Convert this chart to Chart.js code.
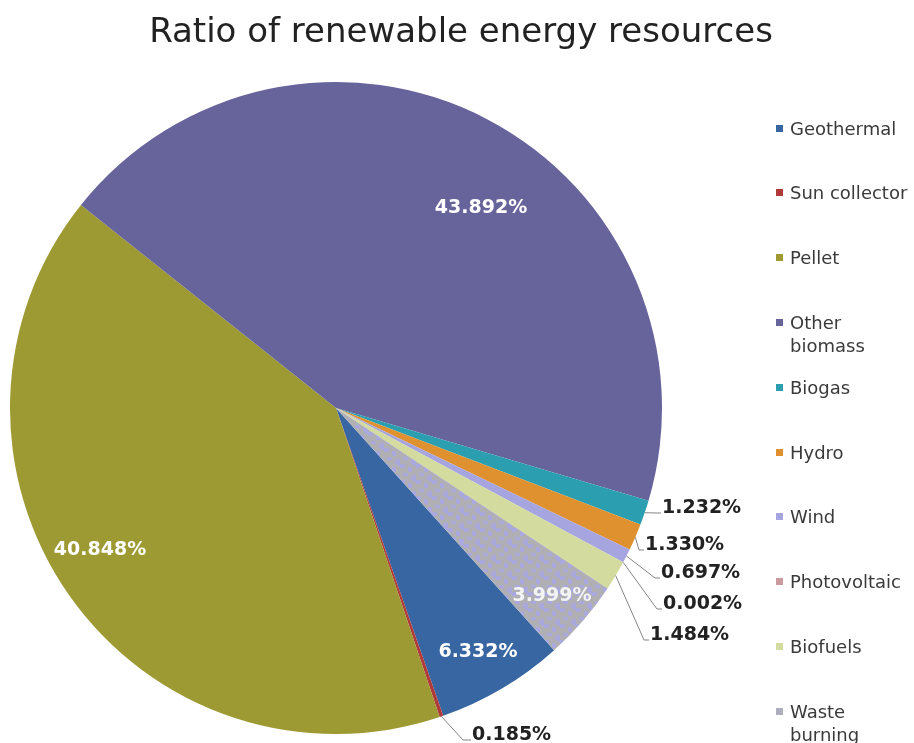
<!DOCTYPE html>
<html>
<head>
<meta charset="utf-8">
<script src="https://cdn.jsdelivr.net/npm/chart.js@4.4.1/dist/chart.umd.min.js"></script>
<style>
  html,body{margin:0;padding:0;background:#fff;}
  #wrap{position:relative;width:914px;height:743px;overflow:hidden;}
  #c{position:absolute;left:0;top:0;}
  #title{position:absolute;left:0;width:914px;top:10px;text-align:center;font-family:"DejaVu Sans",sans-serif;font-size:34px;color:#222;white-space:nowrap;padding-left:8px;box-sizing:border-box;}
  .lg{position:absolute;left:776px;font-family:"DejaVu Sans",sans-serif;font-size:18px;line-height:23px;color:#3a3a3a;white-space:nowrap;}
  .lg i{position:absolute;left:0;top:8px;width:7px;height:7px;}
  .lg span{display:block;margin-left:14px;}
</style>
</head>
<body>
<div id="wrap">
  <canvas id="c" width="914" height="743"></canvas>
  <div id="title">Ratio of renewable energy resources</div>
  <div id="legend"></div>
</div>
<script>
const categories = ["Geothermal","Sun collector","Pellet","Other biomass","Biogas","Hydro","Wind","Photovoltaic","Biofuels","Waste burning"];
const legendLines = [["Geothermal"],["Sun collector"],["Pellet"],["Other","biomass"],["Biogas"],["Hydro"],["Wind"],["Photovoltaic"],["Biofuels"],["Waste","burning"]];
const shares = [6.332, 0.185, 40.848, 43.892, 1.232, 1.330, 0.697, 0.002, 1.484, 3.999];
const valueLabels = ["6.332%","0.185%","40.848%","43.892%","1.232%","1.330%","0.697%","0.002%","1.484%","3.999%"];

const colors = ["#3866a2","#b03a3a","#9d9a33","#67639b","#2b9fb0","#df912f","#a6a5df","#c99a9e","#d3db9e","#aeadbd"];

// waste burning texture
function wastePattern(){
  const p = document.createElement('canvas'); p.width = 16; p.height = 16;
  const g = p.getContext('2d');
  g.fillStyle = '#b0b0b4'; g.fillRect(0,0,16,16);
  g.fillStyle = '#aaa8dc';
  g.fillRect(0,0,5,4); g.fillRect(8,3,4,5); g.fillRect(3,9,5,3); g.fillRect(11,11,5,5); g.fillRect(13,0,3,2);
  return g.createPattern(p,'repeat');
}
const bg = colors.slice(); bg[9] = wastePattern();

// label layout (text anchor, alignment, leader elbow)
const labelLayout = [
  {x:478, y:657, align:'center', color:'#ffffff'},
  {x:472, y:740, align:'left', color:'#222222', elbow:[463,740]},
  {x:100, y:555, align:'center', color:'#ffffff'},
  {x:481, y:213, align:'center', color:'#ffffff'},
  {x:662, y:513, align:'left', color:'#222222', elbow:[658,513]},
  {x:645, y:550, align:'left', color:'#222222', elbow:[639,550]},
  {x:661, y:578, align:'left', color:'#222222', elbow:[655,578]},
  {x:663, y:609, align:'left', color:'#222222', elbow:[657,609]},
  {x:650, y:640, align:'left', color:'#222222', elbow:[644,640]},
  {x:552, y:601, align:'center', color:'#f4f4f4'}
];

const labelPlugin = {
  id:'sliceLabels',
  afterDatasetsDraw(chart){
    const ctx = chart.ctx;
    const meta = chart.getDatasetMeta(0);
    ctx.save();
    ctx.font = 'bold 19px "DejaVu Sans", sans-serif';
    meta.data.forEach((arc, i) => {
      const L = labelLayout[i];
      const p = arc.getProps(['x','y','startAngle','endAngle','outerRadius'], true);
      if (L.elbow){
        const mid = (p.startAngle + p.endAngle)/2;
        const sx = p.x + p.outerRadius*Math.cos(mid);
        const sy = p.y + p.outerRadius*Math.sin(mid);
        ctx.strokeStyle = '#858585'; ctx.lineWidth = 1;
        ctx.beginPath(); ctx.moveTo(sx, sy); ctx.lineTo(L.elbow[0], L.elbow[1]); ctx.lineTo(L.x-1, L.elbow[1]); ctx.stroke();
      }
      ctx.fillStyle = L.color;
      ctx.textAlign = L.align;
      ctx.textBaseline = 'alphabetic';
      ctx.fillText(valueLabels[i], L.x, L.y);
    });
    ctx.restore();
  }
};

new Chart(document.getElementById('c'), {
  type:'pie',
  data:{ labels:categories, datasets:[{ data:shares, backgroundColor:bg, borderWidth:0 }] },
  options:{
    responsive:false, animation:false,
    rotation:138,
    layout:{ padding:{ left:10, right:252, top:82, bottom:9 } },
    plugins:{ legend:{display:false}, title:{display:false}, tooltip:{enabled:false} }
  },
  plugins:[labelPlugin]
});

// legend
const lg = document.getElementById('legend');
legendLines.forEach((lines, i) => {
  const d = document.createElement('div');
  d.className = 'lg';
  d.style.top = (116.5 + i*64.8) + 'px';
  const m = document.createElement('i'); m.style.background = colors[i]; d.appendChild(m);
  lines.forEach(t => { const s = document.createElement('span'); s.textContent = t; d.appendChild(s); });
  lg.appendChild(d);
});
</script>
</body>
</html>
